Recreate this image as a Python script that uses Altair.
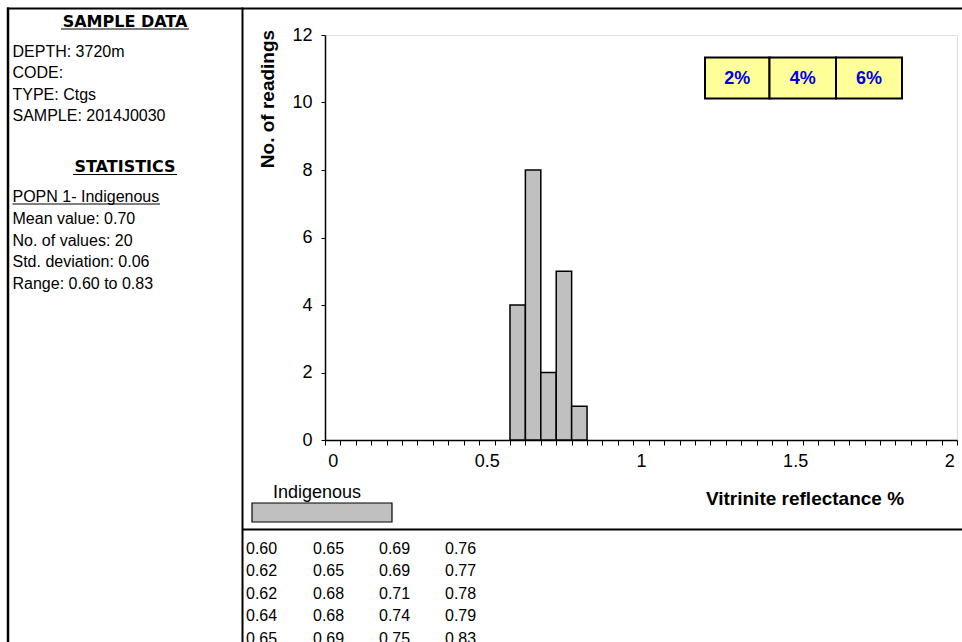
import json
import altair as alt
import pandas as pd

# ---------------- data ----------------
readings = [0.60, 0.62, 0.62, 0.64, 0.65,
            0.65, 0.65, 0.68, 0.68, 0.69,
            0.69, 0.69, 0.71, 0.74, 0.75,
            0.76, 0.77, 0.78, 0.79, 0.83]
sample_title = "SAMPLE DATA"
sample_lines = ["DEPTH: 3720m", "CODE:", "TYPE: Ctgs", "SAMPLE: 2014J0030"]
stats_title = "STATISTICS"
popn_label = "POPN 1- Indigenous"
stats_lines = ["Mean value: 0.70", "No. of values: 20",
               "Std. deviation: 0.06", "Range: 0.60 to 0.83"]
scale_boxes = ["2%", "4%", "6%"]
legend_label = "Indigenous"
x_title = "Vitrinite reflectance %"
y_title = "No. of readings"
x_ticks = [round(i * 0.05, 2) for i in range(42)]
x_labels = [0, 0.5, 1, 1.5, 2]
y_ticks = [0, 2, 4, 6, 8, 10, 12]
bin_step = 0.05
x_domain = [0, 2.05]
y_domain = [0, 12]
table_rows = 5

# ---------------- layout ----------------
OX, OY = 325, 35          # plot origin in page pixels
W, H = 632, 405           # plot area
FONT = "Liberation Sans"
HFONT = "DejaVu Sans"

def px(x):
    return x - OX

def py(y):
    return y - OY

one = pd.DataFrame({"k": [0]})

def text_layer(text, x, y, size, bold=False, align="left", baseline="alphabetic",
               color="black", angle=None, font=FONT, line_height=None):
    kw = dict(text=text, fontSize=size, fontWeight="bold" if bold else "normal",
              align=align, baseline=baseline, color=color, font=font)
    if angle is not None:
        kw["angle"] = angle
    if line_height is not None:
        kw["lineHeight"] = line_height
    return alt.Chart(one).mark_text(**kw).encode(x=alt.value(px(x)), y=alt.value(py(y)))

def hrule(y, x1, x2, w=1.0):
    return alt.Chart(one).mark_rule(color="black", strokeWidth=w).encode(
        x=alt.value(px(x1)), x2=alt.value(px(x2)), y=alt.value(py(y)))

def vrule(x, y1, y2, w=1.0):
    return alt.Chart(one).mark_rule(color="black", strokeWidth=w).encode(
        x=alt.value(px(x)), y=alt.value(py(y1)), y2=alt.value(py(y2)))

def rect(x1, x2, y1, y2, fill, stroke="black", w=1.0):
    return alt.Chart(one).mark_rect(fill=fill, stroke=stroke, strokeWidth=w).encode(
        x=alt.value(px(x1)), x2=alt.value(px(x2)), y=alt.value(py(y1)), y2=alt.value(py(y2)))

layers = []

# frame
layers.append(hrule(8.5, 7, 962, 2))
layers.append(vrule(8, 7.5, 642, 2.5))
layers.append(vrule(242.5, 7.5, 642, 2))
layers.append(hrule(529.5, 242, 962, 2))

# left panel
layers.append(text_layer(sample_title, 125, 26.5, 16, bold=True, align="center", font=HFONT))
layers.append(hrule(29, 61, 189, 1.2))
layers.append(text_layer(sample_lines, 12.5, 56.5, 16, line_height=21.5))
layers.append(text_layer(stats_title, 125, 171.5, 16, bold=True, align="center", font=HFONT))
layers.append(hrule(174.5, 73, 177, 1.2))
layers.append(text_layer(popn_label, 12.5, 201.5, 16))
layers.append(hrule(204, 12.5, 160, 1))
layers.append(text_layer(stats_lines, 12.5, 224, 16, line_height=21.5))

# readings table
col_x = [246, 313, 379, 445]
for c in range(len(readings) // table_rows):
    col_vals = [f"{v:.2f}" for v in readings[c * table_rows:(c + 1) * table_rows]]
    layers.append(text_layer(col_vals, col_x[c], 554, 16, line_height=22.4))

# histogram
label_expr = (f"indexof({json.dumps(x_labels)}, datum.value) >= 0 ? "
              "format(datum.value, '~g') : ''")
hist = alt.Chart(pd.DataFrame({"reading": readings})).transform_bin(
    ["bin_start", "bin_end"], field="reading",
    bin=alt.Bin(extent=x_domain, step=bin_step)
).transform_aggregate(
    count="count()", groupby=["bin_start", "bin_end"]
).mark_rect(fill="#C0C0C0", stroke="black", strokeWidth=1.5).encode(
    x=alt.X("bin_start:Q",
            scale=alt.Scale(domain=x_domain, nice=False, zero=False),
            axis=alt.Axis(values=x_ticks, labelExpr=label_expr, labelOffset=7.7,
                          tickSize=5, tickColor="black", tickWidth=1,
                          domainColor="black", domainWidth=1.5,
                          labelFontSize=18, labelFont=FONT, labelColor="black",
                          labelPadding=7, grid=False, title=None,
                          labelFlush=False, labelOverlap=False)),
    x2="bin_end:Q",
    y=alt.Y("count:Q",
            scale=alt.Scale(domain=y_domain, nice=False),
            axis=alt.Axis(values=y_ticks, tickSize=4, tickColor="black", tickWidth=1,
                          domainColor="black", domainWidth=1.5,
                          labelFontSize=18, labelFont=FONT, labelColor="black",
                          labelPadding=9, grid=False, title=None,
                          labelFlush=False, labelOverlap=False)),
    y2=alt.datum(0),
)
layers.append(hist)

# axis titles
layers.append(text_layer(x_title, 805, 505, 19, bold=True, align="center"))
layers.append(text_layer(y_title, 268, 99, 19, bold=True, align="center",
                         baseline="middle", angle=270))

# percentage boxes
box_x = [705, 769.5, 836, 902]
for i, lab in enumerate(scale_boxes):
    layers.append(rect(box_x[i], box_x[i + 1], 57.5, 98.5, "#FFFF99", "black", 2))
    layers.append(text_layer(lab, (box_x[i] + box_x[i + 1]) / 2, 79, 18, bold=True,
                             align="center", baseline="middle", color="#0000E0"))

# legend
layers.append(text_layer(legend_label, 317, 498, 18, align="center"))
layers.append(rect(252, 392, 503, 522, "#C0C0C0", "black", 1.2))

chart = alt.layer(*layers).properties(
    width=W, height=H,
    padding={"left": OX, "top": OY, "right": 962 - OX - W, "bottom": 642 - OY - H},
    autosize=alt.AutoSizeParams(type="none"),
).configure_view(stroke="black", strokeWidth=1.5).configure(background="white")

chart.save("out.html", embed_options={"renderer": "svg", "actions": False})
